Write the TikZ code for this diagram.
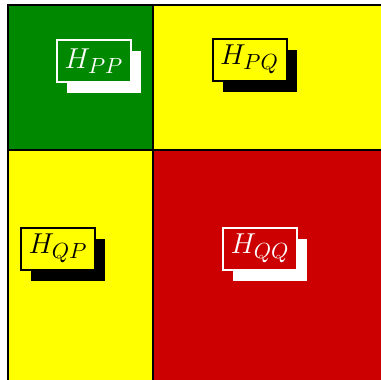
\documentclass[tikz,border=0pt]{standalone}
\usetikzlibrary{shadows}
\definecolor{cgreen}{RGB}{0,137,0}
\definecolor{cred}{RGB}{204,0,0}
\definecolor{cyellow}{RGB}{255,255,0}
\tikzset{
  cell/.style={draw=black, line width=1pt},
  lab/.style={draw, line width=1pt, minimum width=37pt, minimum height=21pt, inner sep=0pt,
    font=\fontsize{15.5}{18}\selectfont},
  whitelab/.style={lab, draw=white, text=white, general shadow={fill=white, shadow xshift=5pt, shadow yshift=-5.5pt}},
  blacklab/.style={lab, draw=black, text=black, general shadow={fill=black, shadow xshift=5pt, shadow yshift=-5.5pt}},
}
\begin{document}
\begin{tikzpicture}[x=0.5pt, y=-0.5pt]
\useasboundingbox (0,0) rectangle (381,380);
\clip (0,0) rectangle (381,380);
\path[cell, fill=cgreen] (8,5) rectangle (153,150);
\path[cell, fill=cyellow] (153,5) rectangle (420,150);
\path[cell, fill=cyellow] (8,150) rectangle (153,420);
\path[cell, fill=cred] (153,150) rectangle (420,420);
\node[whitelab, fill=cgreen] (hpp) at (94,61) {$H_{PP}$};
\node[blacklab, fill=cyellow] (hpq) at (249.5,59.5) {$H_{PQ}$};
\node[blacklab, fill=cyellow] (hqp) at (58,248.5) {$H_{QP}$};
\node[whitelab, fill=cred] (hqq) at (260,248.5) {$H_{QQ}$};
\end{tikzpicture}
\end{document}
